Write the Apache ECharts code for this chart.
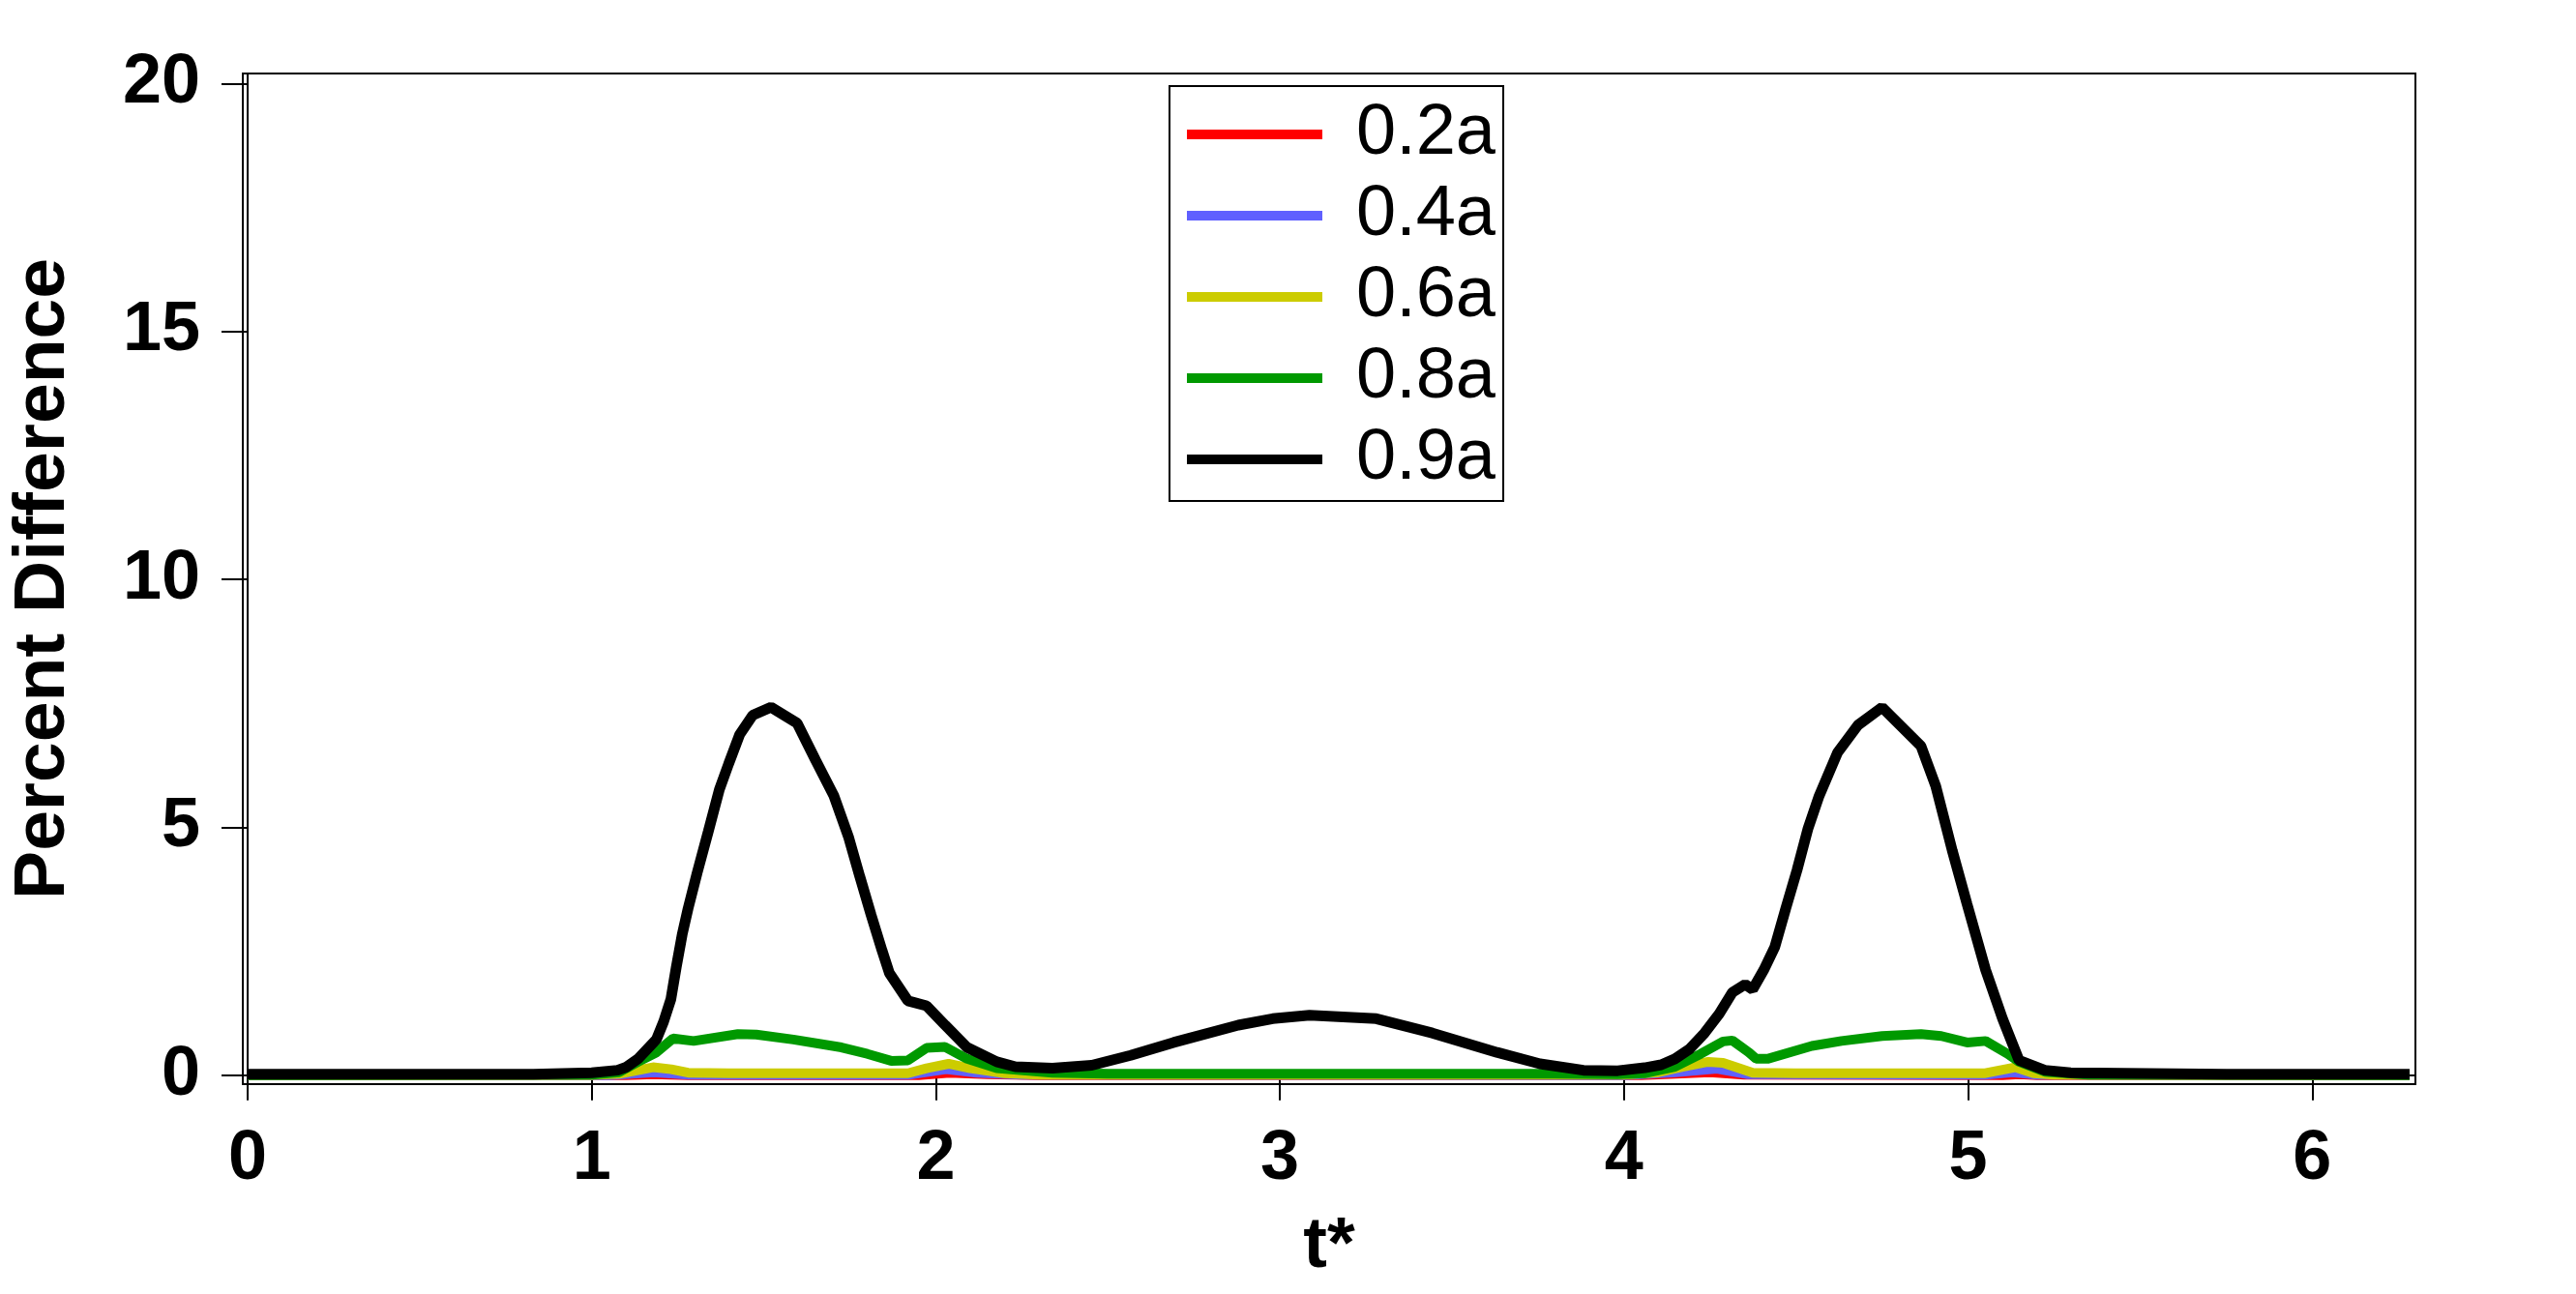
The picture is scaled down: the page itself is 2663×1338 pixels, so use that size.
<!DOCTYPE html>
<html>
<head>
<meta charset="utf-8">
<script src="https://cdn.jsdelivr.net/npm/echarts@6/dist/echarts.min.js"></script>
<style>
  html, body { margin: 0; padding: 0; background: #fff; }
  #main { width: 2663px; height: 1338px; }
</style>
</head>
<body>
<div id="main"></div>
<script>
// legend names and colours
var names = ['0.2a', '0.4a', '0.6a', '0.8a', '0.9a'];
var colors = ['#ff0000', '#6060ff', '#cccc00', '#009900', '#000000'];

// tick labels
var xTicks = [0, 1, 2, 3, 4, 5, 6];
var yTicks = [0, 5, 10, 15, 20];

// t* values and percent difference for each curve
var t02 = [0, 1.1, 1.18, 1.28, 1.95, 2.04, 2.15, 2.3, 4.05, 4.25, 4.35, 5.1, 5.15, 5.2, 6.283];
var v02 = [0, 0, 0.02, 0, 0, 0.05, 0.02, 0, 0, 0.06, 0.01, 0, 0.02, 0, 0];

var t04 = [0, 1.05, 1.18, 1.28, 1.92, 2.03, 2.12, 2.25, 4.0, 4.15, 4.27, 4.36, 5.05, 5.13, 5.2, 6.283];
var v04 = [0, 0, 0.06, 0.01, 0.01, 0.12, 0.05, 0.01, 0, 0.06, 0.13, 0.02, 0.01, 0.06, 0.01, 0];

var t06 = [0, 1.0, 1.08, 1.178, 1.231, 1.28, 1.4, 1.919, 1.973, 2.037, 2.1, 2.2, 2.3, 4.0, 4.1, 4.17, 4.245, 4.288, 4.374, 4.5, 5.05, 5.137, 5.19, 5.25, 6.283];
var v06 = [0, 0.005, 0.03, 0.16, 0.12, 0.05, 0.04, 0.04, 0.14, 0.23, 0.14, 0.04, 0.01, 0.01, 0.06, 0.17, 0.27, 0.25, 0.05, 0.04, 0.04, 0.16, 0.04, 0.01, 0];

var t08 = [0, 1.0, 1.08, 1.135, 1.188, 1.236, 1.296, 1.425, 1.478, 1.586, 1.726, 1.801, 1.87, 1.919, 1.973, 2.027, 2.091, 2.177, 2.339, 2.5,
           3.8, 3.98, 4.062, 4.148, 4.223, 4.288, 4.315, 4.363, 4.384, 4.417, 4.546, 4.632, 4.75, 4.863, 4.922, 4.997, 5.051, 5.115, 5.148, 5.223, 5.35, 6.283];
var v08 = [0, 0.01, 0.06, 0.27, 0.46, 0.74, 0.69, 0.83, 0.82, 0.72, 0.56, 0.43, 0.29, 0.3, 0.55, 0.57, 0.33, 0.14, 0.05, 0.03,
           0.03, 0.02, 0.04, 0.17, 0.43, 0.68, 0.7, 0.46, 0.33, 0.33, 0.59, 0.69, 0.79, 0.83, 0.79, 0.66, 0.69, 0.43, 0.27, 0.07, 0.01, 0];

var t09 = [0, 0.5, 0.83, 1.0, 1.075, 1.1, 1.135, 1.188, 1.209, 1.23, 1.246, 1.263, 1.28, 1.306, 1.339, 1.371, 1.398, 1.43, 1.468, 1.521,
           1.597, 1.651, 1.704, 1.747, 1.779, 1.812, 1.844, 1.865, 1.919, 1.973, 2.027, 2.091, 2.177, 2.231, 2.339, 2.453, 2.566, 2.691,
           2.879, 2.979, 3.086, 3.28, 3.443, 3.631, 3.756, 3.882, 3.982, 4.06, 4.108, 4.148, 4.191, 4.234, 4.277, 4.315, 4.352, 4.374,
           4.406, 4.438, 4.47, 4.503, 4.535, 4.567, 4.621, 4.68, 4.75, 4.863, 4.906, 4.954, 4.997, 5.051, 5.1, 5.148, 5.223, 5.298, 5.75, 6.283];
var v09 = [0.02, 0.02, 0.02, 0.05, 0.1, 0.16, 0.33, 0.72, 1.08, 1.53, 2.19, 2.84, 3.36, 4.07, 4.92, 5.76, 6.28, 6.87, 7.26, 7.42,
           7.1, 6.35, 5.63, 4.79, 4.01, 3.23, 2.51, 2.06, 1.5, 1.4, 1.01, 0.56, 0.27, 0.17, 0.14, 0.2, 0.4, 0.66,
           1.01, 1.14, 1.21, 1.14, 0.85, 0.46, 0.23, 0.1, 0.09, 0.15, 0.21, 0.33, 0.53, 0.85, 1.24, 1.67, 1.83, 1.73,
           2.12, 2.58, 3.36, 4.14, 4.98, 5.63, 6.51, 7.06, 7.42, 6.64, 5.83, 4.53, 3.45, 2.12, 1.14, 0.3, 0.1, 0.05, 0.02, 0.02];

var tList = [t02, t04, t06, t08, t09];
var vList = [v02, v04, v06, v08, v09];

var myChart = echarts.init(document.getElementById('main'));

var series = names.map(function (name, i) {
  return {
    name: name,
    type: 'line',
    symbol: 'none',
    data: tList[i].map(function (t, j) { return [t, vList[i][j]]; }),
    lineStyle: { color: colors[i], width: i === 4 ? 11 : 10 },
    itemStyle: { color: colors[i] },
    z: 2 + i
  };
});

var option = {
  animation: false,
  backgroundColor: '#ffffff',
  grid: {
    left: 247, right: 166, top: 76, bottom: 217,
    show: true, borderColor: '#000', borderWidth: 2
  },
  legend: {
    data: names,
    orient: 'vertical',
    left: 1209, top: 89,
    icon: 'rect',
    itemWidth: 140, itemHeight: 10,
    itemGap: 10,
    padding: [13, 8, 6, 18],
    borderColor: '#000', borderWidth: 2,
    textStyle: {
      fontFamily: 'Liberation Sans', fontSize: 74, color: '#000',
      lineHeight: 74, padding: [0, 0, 0, 30]
    }
  },
  xAxis: {
    type: 'value',
    min: -0.014, max: 6.3,
    name: 't*',
    nameLocation: 'middle',
    nameGap: 132,
    nameTextStyle: { fontFamily: 'Liberation Sans', fontWeight: 'bold', fontSize: 74, color: '#000' },
    axisLine: { show: true, lineStyle: { color: '#000', width: 2 } },
    axisTick: { show: true, length: 26, lineStyle: { color: '#000', width: 2 }, customValues: xTicks },
    axisLabel: { fontFamily: 'Liberation Sans', fontWeight: 'bold', fontSize: 72, color: '#000', margin: 42, customValues: xTicks },
    splitLine: { show: false }
  },
  yAxis: {
    type: 'value',
    min: -0.18, max: 20.2,
    name: 'Percent Difference',
    nameLocation: 'middle',
    nameGap: 168,
    nameTextStyle: { fontFamily: 'Liberation Sans', fontWeight: 'bold', fontSize: 75, color: '#000' },
    axisLine: { show: true, lineStyle: { color: '#000', width: 2 } },
    axisTick: { show: true, length: 27, lineStyle: { color: '#000', width: 2 }, customValues: yTicks },
    axisLabel: { fontFamily: 'Liberation Sans', fontWeight: 'bold', fontSize: 72, color: '#000', margin: 44, customValues: yTicks },
    splitLine: { show: false }
  },
  series: series
};

myChart.setOption(option);
</script>
</body>
</html>
